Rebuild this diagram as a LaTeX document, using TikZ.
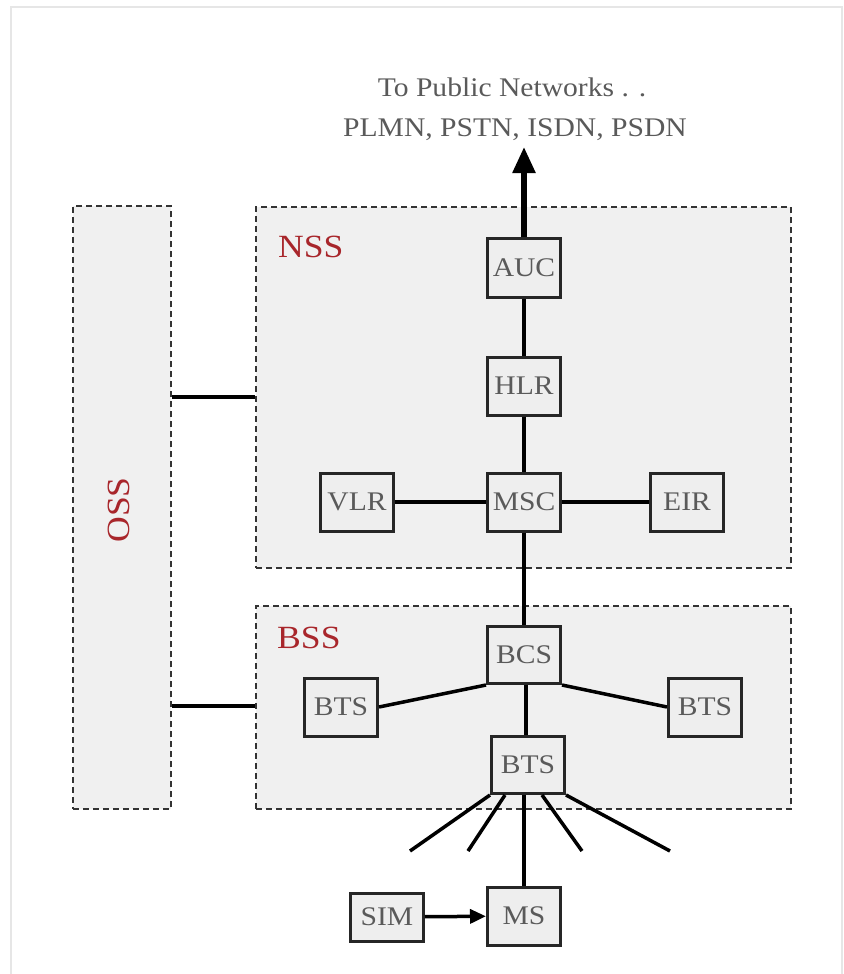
\documentclass[tikz,border=0pt]{standalone}
\usepackage{fontspec}
\setmainfont{Liberation Serif}[FakeStretch=1.1]
\usetikzlibrary{arrows.meta}
\definecolor{grpfill}{HTML}{F0F0F0}
\definecolor{boxfill}{HTML}{EEEEEE}
\definecolor{txtgray}{HTML}{5A5A5A}
\definecolor{lblred}{HTML}{A8262B}
\definecolor{framegray}{HTML}{E6E6E6}
\newcommand\boxfont{\fontsize{27}{30}\selectfont}
\newcommand\grpfont{\fontsize{32.5}{35}\selectfont}
\tikzset{
  unit/.style={draw=black!85, line width=3bp, fill=boxfill, text=txtgray,
    minimum width=73bp, minimum height=58bp, inner sep=0pt, font=\boxfont},
  group/.style={draw=black!80, line width=2bp, dash pattern=on 6bp off 4bp,
    fill=grpfill, inner sep=0pt},
  grplabel/.style={text=lblred, font=\grpfont, inner sep=0pt},
  conn/.style={draw=black, line width=3.5bp},
  bigarrow/.style={draw=black, line width=5.5bp, -{Triangle[length=26bp,width=22bp]}},
  smallarrow/.style={draw=black, line width=3.5bp, -{Triangle[length=16bp,width=14bp]}},
  toptext/.style={text=txtgray, font=\boxfont, inner sep=0pt, anchor=base}
}
\begin{document}
\begin{tikzpicture}[x=1bp,y=-1bp]
\useasboundingbox (0,0) rectangle (844,974);
\fill[white] (0,0) rectangle (844,974);
\draw[framegray, line width=1.5bp] (11,974) -- (11,7) -- (842,7) -- (842,974);

% groups
\node[group, minimum width=98bp, minimum height=603bp] (OSS) at (122,507.5) {};
\node[group, minimum width=535bp, minimum height=361bp] (NSS) at (523.5,387.5) {};
\node[group, minimum width=535bp, minimum height=203bp] (BSS) at (523.5,707.5) {};

\node[grplabel, rotate=90] (OSSl) at (119,510) {OSS};
\node[grplabel, anchor=base west] (NSSl) at (278,257) {NSS};
\node[grplabel, anchor=base west] (BSSl) at (277,648) {BSS};

% top text
\node[toptext] (pub1) at (512,96) {To Public Networks . .};
\node[toptext] (pub2) at (515,136) {PLMN, PSTN, ISDN, PSDN};

% OSS links
\draw[conn] (OSS.east |- 0,397) -- (NSS.west |- 0,397);
\draw[conn] (OSS.east |- 0,706) -- (BSS.west |- 0,706);

% units
\node[unit, minimum height=59bp] (AUC) at (524,268) {AUC};
\node[unit] (HLR) at (524,386) {HLR};
\node[unit] (MSC) at (524,502) {MSC};
\node[unit] (VLR) at (357,502) {VLR};
\node[unit] (EIR) at (687,502) {EIR};
\node[unit, minimum height=57bp] (BCS) at (524,655) {BCS};
\node[unit] (BTSL) at (341,707) {BTS};
\node[unit] (BTSR) at (705,707) {BTS};
\node[unit, minimum height=57bp] (BTSC) at (528,765) {BTS};
\node[unit] (MS) at (524,916) {MS};
\node[unit, minimum height=48bp] (SIM) at (387,917) {SIM};

% connectors
\coordinate (pub) at (524,147);
\draw[bigarrow] (AUC.north) -- (pub);
\draw[conn] (AUC) -- (HLR);
\draw[conn] (HLR) -- (MSC);
\draw[conn] (VLR) -- (MSC);
\draw[conn] (MSC) -- (EIR);
\draw[conn] (MSC) -- (BCS);
\draw[conn] (BCS.south west) -- (BTSL.east);
\draw[conn] (BCS.south east) -- (BTSR.west);
\draw[conn] (BCS.south -| 526,0) -- (BTSC.north -| 526,0);

\coordinate (f1) at (410,851);
\coordinate (f2) at (468,851);
\coordinate (f3) at (582,851);
\coordinate (f4) at (670,851);
\draw[conn] (BTSC.south west) -- (f1);
\draw[conn] (BTSC.south -| 505,0) -- (f2);
\draw[conn] (BTSC.south -| 542,0) -- (f3);
\draw[conn] (BTSC.south east) -- (f4);
\draw[conn] (BTSC.south -| MS.north) -- (MS.north);

\draw[smallarrow] (SIM) -- (MS);
\end{tikzpicture}
\end{document}
